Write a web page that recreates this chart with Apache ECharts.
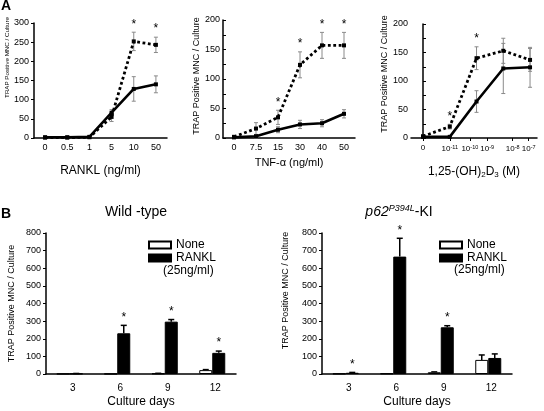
<!DOCTYPE html>
<html>
<head>
<meta charset="utf-8">
<script src="https://cdn.jsdelivr.net/npm/echarts@6/dist/echarts.min.js"></script>
<style>html,body{margin:0;padding:0;background:#fff}#c{width:544px;height:411px}</style>
</head>
<body>
<div id="c"></div>
<script>
// ---------- Panel A1: RANKL ----------
const ranklCats = ['0', '0.5', '1', '5', '10', '50'];
const ranklSolid = [2, 2, 3, 66, 128, 140];
const ranklSolidErr = [1, 1, 1, 8, 32, 22];
const ranklDot = [1, 1, 2, 55, 252, 243];
const ranklDotErr = [1, 1, 1, 12, 24, 20];
const ranklSig = [0, 0, 0, 0, 1, 1];

// ---------- Panel A2: TNF-alpha ----------
const tnfCats = ['0', '7.5', '15', '30', '40', '50'];
const tnfSolid = [1, 3, 14, 23, 25, 41];
const tnfSolidErr = [1, 3, 5, 7, 6, 7];
const tnfDot = [2, 16, 35, 124, 157, 157];
const tnfDotErr = [1, 10, 12, 22, 22, 22];
const tnfSig = [0, 0, 1, 1, 1, 1];

// ---------- Panel A3: 1,25-(OH)2D3 ----------
const vdX = [0, 1, 2, 3, 4];
const vdSolid = [2, 2, 64, 122, 124];
const vdSolidErr = [1, 1, 19, 44, 35];
const vdDot = [3, 20, 140, 153, 137];
const vdDotErr = [2, 4, 20, 22, 20];
const vdSig = [0, 1, 1, 0, 0];
const vdTickBase = ['0', '10', '10', '10', '10', '10'];
const vdTickExp = ['', '-11', '-10', '-9', '-8', '-7'];
const vdTickAt = [0, 1, 1.75, 2.4, 3.35, 3.95];

// ---------- Panel B: culture days ----------
const days = ['3', '6', '9', '12'];
const wtNone = [1, 1, 3, 22];
const wtNoneErr = [0, 0, 1, 3];
const wtRankl = [2, 231, 297, 120];
const wtRanklErr = [1, 45, 12, 10];
const wtSig = [0, 1, 1, 1];
const kiNone = [2, 3, 10, 80];
const kiNoneErr = [0, 0, 2, 28];
const kiRankl = [7, 666, 265, 91];
const kiRanklErr = [2, 104, 9, 23];
const kiSig = [1, 1, 1, 0];

const FONT = '"Liberation Sans", Arial, Helvetica, sans-serif';
const YNAME = 'TRAP Positive MNC / Culture';

function errData(xs, vals, errs, sig) {
  return vals.map((v, i) => [xs[i], v, errs[i], sig ? sig[i] : 0]);
}
function errRender(offset, capHalf, oneSided, color, lw) {
  return function (params, api) {
    const x = api.value(0), y = api.value(1), e = api.value(2), s = api.value(3);
    const top = api.coord([x, y + e]);
    const mid = api.coord([x, y]);
    const bot = api.coord([x, oneSided ? y : y - e]);
    const cx = mid[0] + offset;
    const children = [];
    const st = { stroke: color, lineWidth: lw };
    if (e > 0) {
      children.push({ type: 'line', shape: { x1: cx, y1: top[1], x2: cx, y2: bot[1] }, style: st });
      children.push({ type: 'line', shape: { x1: cx - capHalf, y1: top[1], x2: cx + capHalf, y2: top[1] }, style: st });
      if (!oneSided) children.push({ type: 'line', shape: { x1: cx - capHalf, y1: bot[1], x2: cx + capHalf, y2: bot[1] }, style: st });
    }
    if (s) {
      children.push({ type: 'text', style: { text: '*', x: cx, y: top[1] - 2, textAlign: 'center', textVerticalAlign: 'bottom', fontSize: 12, fontFamily: FONT, fill: '#000' } });
    }
    return { type: 'group', children };
  };
}

const axisLine = { lineStyle: { color: '#000', width: 1.5 } };
const lbl = { color: '#000', fontSize: 9, fontFamily: FONT };

const grids = [
  { left: 34, top: 23, width: 133, height: 115 },
  { left: 223, top: 20, width: 132, height: 118 },
  { left: 411, top: 24, width: 126, height: 114 },
  { left: 46, top: 233, width: 190, height: 141 },
  { left: 322, top: 233, width: 190, height: 141 }
];

const xAxes = [
  { gridIndex: 0, type: 'category', data: ranklCats, axisLine, axisTick: { alignWithLabel: true, length: 3, lineStyle: { color: '#000' } },
    axisLabel: Object.assign({ margin: 5 }, lbl), name: 'RANKL (ng/ml)', nameLocation: 'middle', nameGap: 27,
    nameTextStyle: { color: '#000', fontSize: 12, fontFamily: FONT } },
  { gridIndex: 1, type: 'category', data: tnfCats, axisLine, axisTick: { alignWithLabel: true, length: 3, lineStyle: { color: '#000' } },
    axisLabel: Object.assign({ margin: 5 }, lbl), name: 'TNF-α (ng/ml)', nameLocation: 'middle', nameGap: 19,
    nameTextStyle: { color: '#000', fontSize: 11, fontFamily: FONT } },
  { gridIndex: 2, type: 'value', min: -0.449, max: 4.26, splitLine: { show: false }, axisLine,
    axisTick: { length: 3, lineStyle: { color: '#000' }, customValues: vdTickAt },
    axisLabel: Object.assign({}, lbl, { margin: 6, fontSize: 8, customValues: vdTickAt,
      formatter: function (v) { const i = vdTickAt.indexOf(v); if (i < 0) return ''; return vdTickExp[i] ? vdTickBase[i] + '{sup|' + vdTickExp[i] + '}' : vdTickBase[i]; },
      rich: { sup: { fontSize: 5.5, fontFamily: FONT, color: '#000', verticalAlign: 'top', padding: [0, 0, 4, 0] } } }),
    name: '1,25-(OH){sub|2}D{sub|3} (M)', nameLocation: 'middle', nameGap: 27,
    nameTextStyle: { color: '#000', fontSize: 12, fontFamily: FONT, rich: { sub: { fontSize: 8, fontFamily: FONT, color: '#000', padding: [6, 0, 0, 0] } } } },
  { gridIndex: 3, type: 'category', data: days, axisLine, axisTick: { length: 3, lineStyle: { color: '#000' } },
    axisLabel: Object.assign({ margin: 9, padding: [0, 0, 0, 6] }, lbl, { fontSize: 10 }), name: 'Culture days', nameLocation: 'middle', nameGap: 22,
    nameTextStyle: { color: '#000', fontSize: 12, fontFamily: FONT } },
  { gridIndex: 4, type: 'category', data: days, axisLine, axisTick: { length: 3, lineStyle: { color: '#000' } },
    axisLabel: Object.assign({ margin: 9, padding: [0, 0, 0, 6] }, lbl, { fontSize: 10 }), name: 'Culture days', nameLocation: 'middle', nameGap: 22,
    nameTextStyle: { color: '#000', fontSize: 12, fontFamily: FONT } }
];

function yAx(gi, max, interval, nameSize, nameGap, shift, inside, minor) {
  return { gridIndex: gi, type: 'value', min: 0, max, interval, splitLine: { show: false },
    axisLine: { show: true, lineStyle: { color: '#000', width: 1.5 } },
    axisTick: { show: true, inside, length: 3, lineStyle: { color: '#000' } },
    minorTick: { show: !!minor, splitNumber: 2, length: 3, lineStyle: { color: '#000' } },
    axisLabel: Object.assign({ margin: inside ? 3 : 5 }, lbl),
    name: YNAME, nameLocation: 'middle', nameGap,
    nameTextStyle: { color: '#000', fontSize: nameSize, fontFamily: FONT, padding: [0, 0, 0, shift] } };
}
const yAxes = [
  yAx(0, 300, 50, 6.2, 20, 46, false, false),
  yAx(1, 200, 50, 9, 22, 6, true, true),
  yAx(2, 200, 50, 9, 21, 14, true, true),
  yAx(3, 800, 100, 9, 30, 0, false, false),
  yAx(4, 800, 100, 9, 32, 26, false, false)
];

const GREY = '#8a8a8a';
function lineSeries(gi, data, dotted) {
  return { type: 'line', xAxisIndex: gi, yAxisIndex: gi, data, symbol: 'rect', symbolSize: 4, z: 3,
    itemStyle: { color: '#000' },
    lineStyle: { color: '#000', width: dotted ? 2.8 : 2.6, type: dotted ? [2.8, 2.6] : 'solid', cap: 'butt' } };
}
function errSeries(gi, data, offset, capHalf, oneSided, color, lw) {
  return { type: 'custom', xAxisIndex: gi, yAxisIndex: gi, data, renderItem: errRender(offset, capHalf, oneSided, color, lw), z: 2, silent: true };
}
const idx6 = [0, 1, 2, 3, 4, 5];
const idx4 = [0, 1, 2, 3];

const series = [
  errSeries(0, errData(idx6, ranklSolid, ranklSolidErr), 0, 2, false, GREY, 1),
  errSeries(0, errData(idx6, ranklDot, ranklDotErr, ranklSig), 0, 2, false, GREY, 1),
  lineSeries(0, ranklSolid, false),
  lineSeries(0, ranklDot, true),
  errSeries(1, errData(idx6, tnfSolid, tnfSolidErr), 0, 2, false, GREY, 1),
  errSeries(1, errData(idx6, tnfDot, tnfDotErr, tnfSig), 0, 2, false, GREY, 1),
  lineSeries(1, tnfSolid, false),
  lineSeries(1, tnfDot, true),
  errSeries(2, errData(vdX, vdSolid, vdSolidErr), 0, 2, false, GREY, 1),
  errSeries(2, errData(vdX, vdDot, vdDotErr, vdSig), 0, 2, false, GREY, 1),
  lineSeries(2, vdX.map((x, i) => [x, vdSolid[i]]), false),
  lineSeries(2, vdX.map((x, i) => [x, vdDot[i]]), true),
  { name: 'None', type: 'bar', xAxisIndex: 3, yAxisIndex: 3, data: wtNone, barWidth: 13, barGap: '0%', itemStyle: { color: '#fff', borderColor: '#000', borderWidth: 1 } },
  { name: 'RANKL', type: 'bar', xAxisIndex: 3, yAxisIndex: 3, data: wtRankl, barWidth: 13, barGap: '0%', itemStyle: { color: '#000', borderColor: '#000', borderWidth: 1 } },
  errSeries(3, errData(idx4, wtNone, wtNoneErr), -6.5, 3, true, '#000', 1.5),
  errSeries(3, errData(idx4, wtRankl, wtRanklErr, wtSig), 6.5, 3, true, '#000', 1.5),
  { name: 'None', type: 'bar', xAxisIndex: 4, yAxisIndex: 4, data: kiNone, barWidth: 13, barGap: '0%', itemStyle: { color: '#fff', borderColor: '#000', borderWidth: 1 } },
  { name: 'RANKL', type: 'bar', xAxisIndex: 4, yAxisIndex: 4, data: kiRankl, barWidth: 13, barGap: '0%', itemStyle: { color: '#000', borderColor: '#000', borderWidth: 1 } },
  errSeries(4, errData(idx4, kiNone, kiNoneErr), -6.5, 3, true, '#000', 1.5),
  errSeries(4, errData(idx4, kiRankl, kiRanklErr, kiSig), 6.5, 3, true, '#000', 1.5)
];

function legendAt(left) {
  return { data: ['None', 'RANKL'], orient: 'vertical', left, top: 234, itemWidth: 22, itemHeight: 7, itemGap: 1,
    icon: 'rect', selectedMode: false, textStyle: { color: '#000', fontSize: 12, fontFamily: FONT } };
}

const chart = echarts.init(document.getElementById('c'), null, { renderer: 'canvas' });
chart.setOption({
  animation: false,
  backgroundColor: '#fff',
  grid: grids,
  xAxis: xAxes,
  yAxis: yAxes,
  series,
  legend: [legendAt(143), legendAt(434)],
  graphic: [
    { type: 'text', left: 1, top: -1, style: { text: 'A', fontSize: 14, fontWeight: 'bold', fontFamily: FONT, fill: '#000' } },
    { type: 'text', left: 1, top: 207, style: { text: 'B', fontSize: 14, fontWeight: 'bold', fontFamily: FONT, fill: '#000' } },
    { type: 'text', x: 136, y: 212, style: { text: 'Wild -type', textAlign: 'center', textVerticalAlign: 'middle', fontSize: 14, fontFamily: FONT, fill: '#000' } },
    { type: 'text', x: 399, y: 212, style: { text: '{i|p62}{s|P394L}{n|-KI}', textAlign: 'center', textVerticalAlign: 'middle', fill: '#000',
      rich: { i: { fontSize: 14, fontStyle: 'italic', fontFamily: FONT }, s: { fontSize: 9, fontStyle: 'italic', fontFamily: FONT, padding: [0, 0, 8, 0] }, n: { fontSize: 14, fontFamily: FONT } } } },
    { type: 'text', x: 163, y: 271, style: { text: '(25ng/ml)', textVerticalAlign: 'middle', fontSize: 12, fontFamily: FONT, fill: '#000' } },
    { type: 'text', x: 454, y: 270, style: { text: '(25ng/ml)', textVerticalAlign: 'middle', fontSize: 12, fontFamily: FONT, fill: '#000' } }
  ]
});
</script>
</body>
</html>
